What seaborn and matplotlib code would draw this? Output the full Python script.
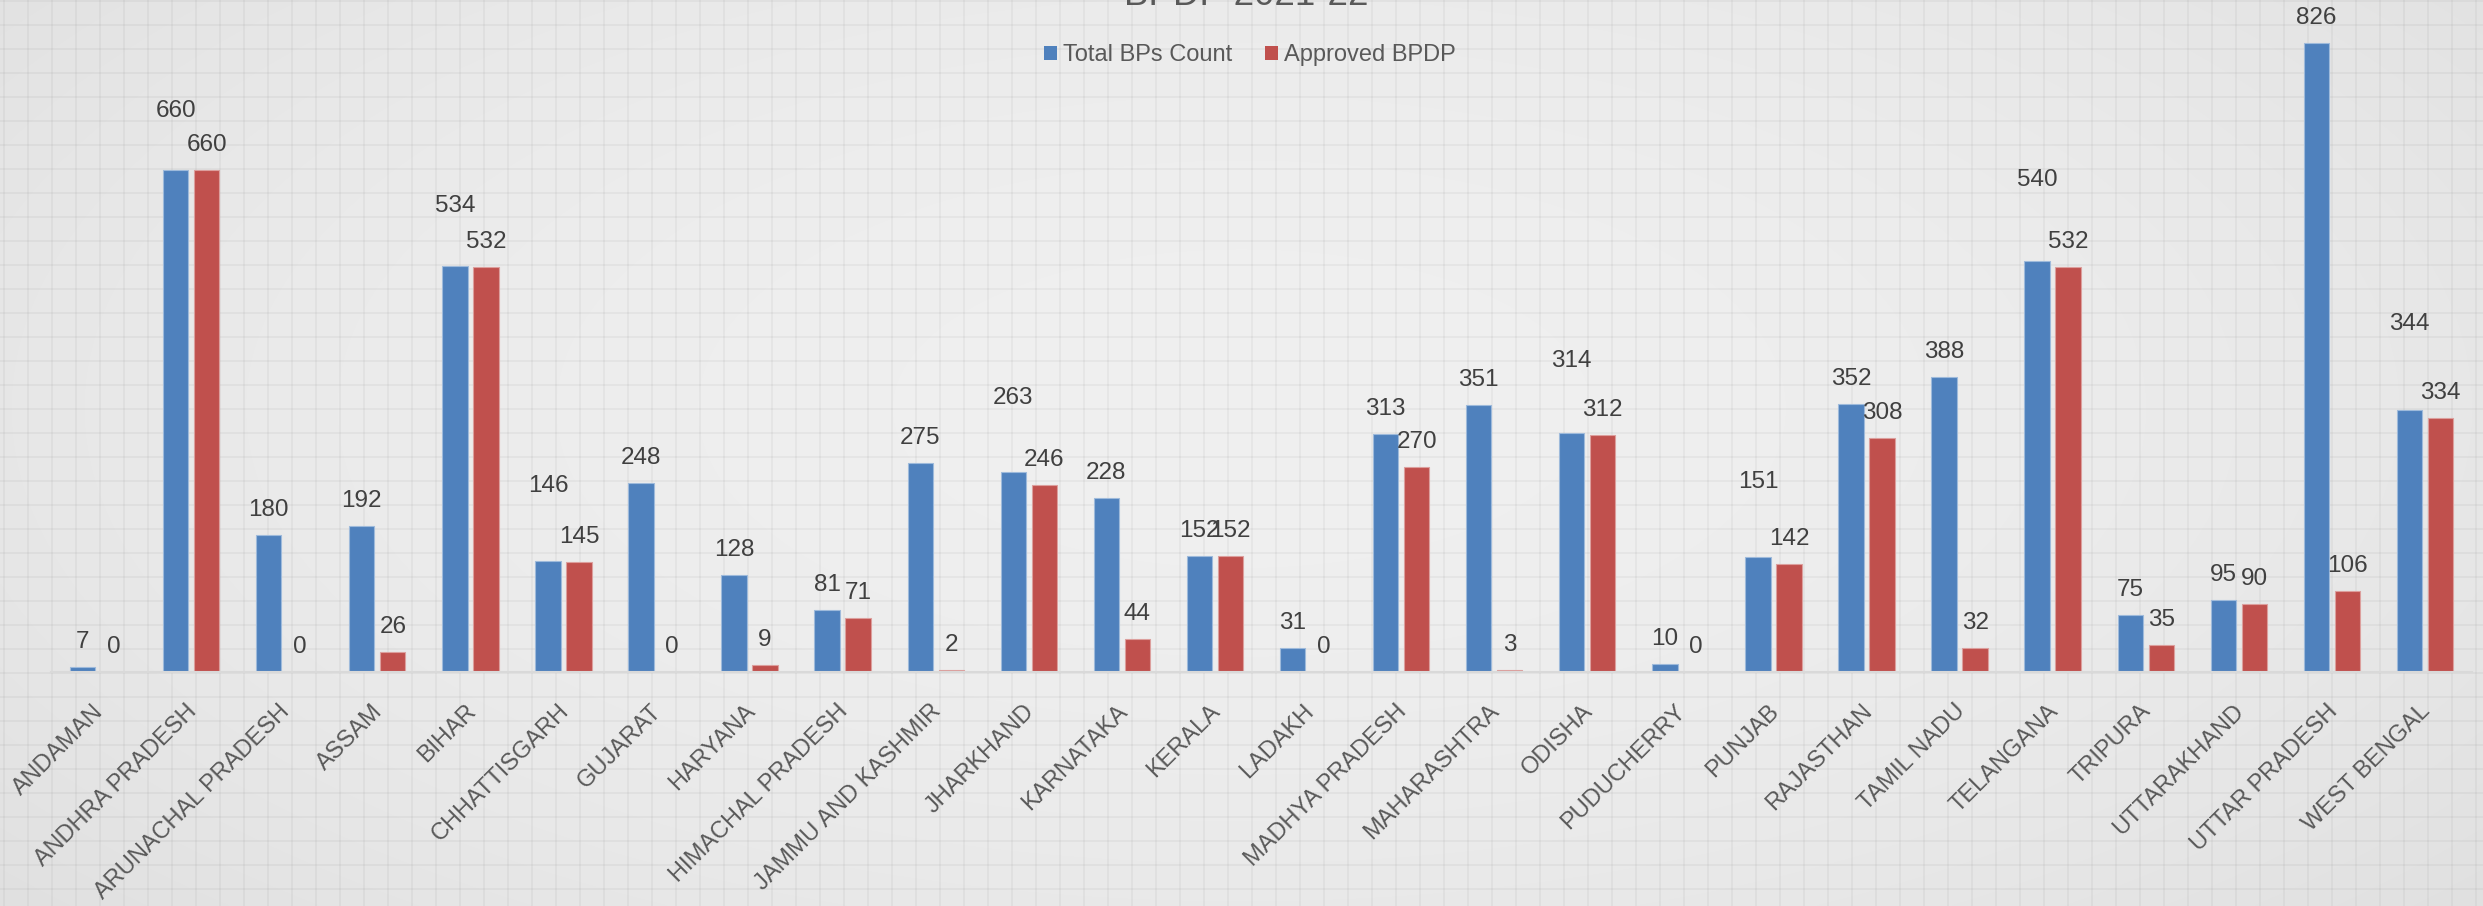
import numpy as np
import pandas as pd
import seaborn as sns
import matplotlib.pyplot as plt
import matplotlib.transforms as mtransforms
from matplotlib.colors import to_rgb
from matplotlib.patches import Patch

states = ['ANDAMAN', 'ANDHRA PRADESH', 'ARUNACHAL PRADESH', 'ASSAM', 'BIHAR',
          'CHHATTISGARH', 'GUJARAT', 'HARYANA', 'HIMACHAL PRADESH',
          'JAMMU AND KASHMIR', 'JHARKHAND', 'KARNATAKA', 'KERALA', 'LADAKH',
          'MADHYA PRADESH', 'MAHARASHTRA', 'ODISHA', 'PUDUCHERRY', 'PUNJAB',
          'RAJASTHAN', 'TAMIL NADU', 'TELANGANA', 'TRIPURA', 'UTTARAKHAND',
          'UTTAR PRADESH', 'WEST BENGAL']
total_bps = [7, 660, 180, 192, 534, 146, 248, 128, 81, 275, 263, 228, 152, 31,
             313, 351, 314, 10, 151, 352, 388, 540, 75, 95, 826, 344]
approved_bpdp = [0, 660, 0, 26, 532, 145, 0, 9, 71, 2, 246, 44, 152, 0,
                 270, 3, 312, 0, 142, 308, 32, 532, 35, 90, 106, 334]
series_names = ['Total BPs Count', 'Approved BPDP']

# a few "Total" labels sit higher than the rest in the original (extra points)
blue_label_lift = {'ANDHRA PRADESH': 24, 'BIHAR': 25, 'CHHATTISGARH': 36,
                   'JHARKHAND': 35, 'ODISHA': 34, 'PUNJAB': 36,
                   'TELANGANA': 40, 'WEST BENGAL': 44}

df = pd.DataFrame({'State': states * 2,
                   'Count': total_bps + approved_bpdp,
                   'Series': [series_names[0]] * len(states) + [series_names[1]] * len(states)})

colors = {'Total BPs Count': '#4F81BD', 'Approved BPDP': '#C0504D'}
plt.rcParams['font.family'] = ['Liberation Sans', 'DejaVu Sans']

W, H = 2483, 906
fig = plt.figure(figsize=(W / 100, H / 100), dpi=100)

# background: soft radial gradient with a faint square grid
bg = fig.add_axes([0, 0, 1, 1], zorder=-5)
yy, xx = np.mgrid[0:H:2, 0:W:2]
r = np.sqrt(((xx - W * 0.5) / (W * 0.6)) ** 2 + ((yy - H * 0.45) / (H * 0.75)) ** 2)
shade = 0.94 - 0.05 * np.clip(r, 0, 1.2) ** 2
bg.imshow(np.dstack([shade] * 3), extent=[0, W, H, 0], aspect='auto', interpolation='bilinear')
bg.vlines(np.arange(4, W, 24), 0, H, color='black', alpha=0.035, lw=1.5)
bg.hlines(np.arange(1, H, 24), 0, W, color='black', alpha=0.035, lw=1.5)
bg.set_xlim(0, W)
bg.set_ylim(H, 0)
bg.axis('off')

ax = fig.add_axes([51.5 / W, (H - 672) / H, 2420 / W, 672 / H])
ax.set_facecolor('none')
sns.barplot(data=df, x='State', y='Count', hue='Series', palette=colors,
            hue_order=series_names, order=states, saturation=1,
            width=0.666, gap=0.18, legend=False, ax=ax, linewidth=0)

ax.set_xlim(-0.5, len(states) - 0.5)
ax.set_ylim(0, 883)

for k, cont in enumerate(ax.containers):
    vals = total_bps if k == 0 else approved_bpdp
    light = tuple(0.55 * c + 0.45 for c in to_rgb(colors[series_names[k]]))
    for st, bar, v in zip(states, cont.patches, vals):
        bar.set_edgecolor(light)
        bar.set_linewidth(0.8)
        lift = blue_label_lift.get(st, 0) if k == 0 else 0
        ax.annotate(str(v), (bar.get_x() + bar.get_width() / 2, bar.get_height()),
                    xytext=(0, 18 + lift), textcoords='offset points',
                    ha='center', va='center', fontsize=17.5, color='#404040')

for s in ['top', 'right', 'left']:
    ax.spines[s].set_visible(False)
ax.spines['bottom'].set_color('#d9d9d9')
ax.spines['bottom'].set_linewidth(1.5)
ax.set_yticks([])
ax.set_xlabel('')
ax.set_ylabel('')
ax.tick_params(axis='x', length=0, pad=0)
offset = mtransforms.ScaledTranslation(2 / 100, -36 / 100, fig.dpi_scale_trans)
for lab in ax.get_xticklabels():
    lab.set_rotation(45)
    lab.set_ha('right')
    lab.set_va('center')
    lab.set_rotation_mode('anchor')
    lab.set_fontsize(17)
    lab.set_color('#595959')
    lab.set_transform(lab.get_transform() + offset)

# title sits half outside the top edge, like the source image
fig.text(1246 / W, 1 - 5 / H, 'BPDP 2021-22', ha='center', va='baseline',
         fontsize=26.5, color='#595959')

handles = [Patch(facecolor=colors[n], edgecolor='none', label=n) for n in series_names]
fig.legend(handles=handles, loc='center', bbox_to_anchor=(1250 / W, 1 - 55 / H),
           ncol=2, frameon=False, fontsize=17, labelcolor='#595959',
           handlelength=0.55, handleheight=0.55, handletextpad=0.25,
           columnspacing=1.4, borderpad=0)

fig.savefig('out.png', dpi=100)
